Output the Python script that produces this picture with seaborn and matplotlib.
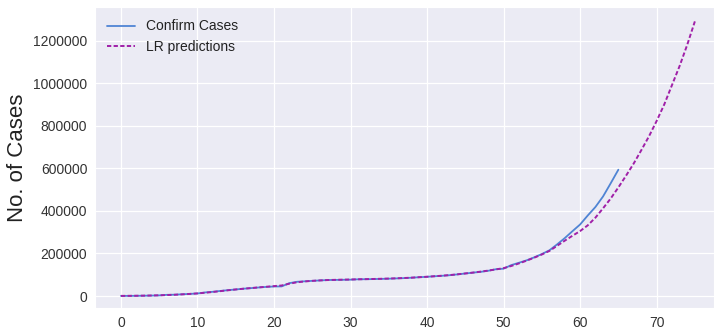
import numpy as np
import pandas as pd
import matplotlib
matplotlib.use('Agg')
import matplotlib.pyplot as plt
import seaborn as sns

# confirmed cases, day 0..65
confirm_days = list(range(0, 66))
confirm_cases = [555, 654, 941, 1434, 2118, 2927, 5578, 6166, 8234, 9927,
                 12038, 16787, 19887, 23898, 27643, 30802, 34395, 37129, 40159, 42768,
                 44810, 45171, 60374, 66887, 69032, 71226, 73260, 75138, 75641, 76199,
                 76843, 78599, 78985, 79570, 80415, 81397, 82756, 84124, 86013, 88371,
                 90309, 92844, 95124, 97886, 101800, 105836, 109835, 113582, 118582, 125865,
                 128343, 145193, 156097, 167449, 181531, 197146, 214910, 242708, 272166, 304524,
                 335955, 378287, 418045, 467653, 529591, 593291]

# LR predictions, day 0..75
pred_days = list(range(0, 76))
pred_cases = [600, 900, 1300, 1800, 2500, 3400, 4600, 6000, 7800, 9900,
              12300, 15500, 19000, 23000, 27000, 30800, 34300, 37400, 40500, 43500,
              46500, 49500, 58000, 64500, 68500, 71300, 73300, 75000, 76000, 76800,
              77600, 78600, 79300, 80100, 81000, 82000, 83200, 84600, 86300, 88400,
              90500, 93000, 95500, 98500, 102000, 106000, 110000, 114500, 119500, 125000,
              131000, 141000, 153000, 166000, 180000, 195000, 212000, 236000, 260000, 283000,
              305000, 332000, 368000, 412000, 458000, 510000, 565000, 622000, 685000, 750000,
              822000, 900000, 990000, 1080000, 1180000, 1290000]

df_conf = pd.DataFrame({'day': confirm_days, 'cases': confirm_cases})
df_pred = pd.DataFrame({'day': pred_days, 'cases': pred_cases})

sns.set_style('darkgrid', {'axes.facecolor': '#ebebf4'})
plt.rcParams['font.family'] = ['Liberation Sans', 'DejaVu Sans']

fig = plt.figure(figsize=(7.14, 3.29), dpi=100)
ax = fig.add_axes([0.133, 0.064, 0.867, 0.915])

sns.lineplot(data=df_conf, x='day', y='cases', ax=ax, color='#4f84d4',
             linewidth=1.3, label='Confirm Cases')
sns.lineplot(data=df_pred, x='day', y='cases', ax=ax, color='#a020a8',
             linewidth=1.4, linestyle=(0, (2.2, 1.2)), label='LR predictions')

ax.set_xlim(-3.4, 77.5)
ax.set_ylim(-56000, 1358000)
ax.set_xticks([0, 10, 20, 30, 40, 50, 60, 70])
ax.set_yticks([0, 200000, 400000, 600000, 800000, 1000000, 1200000])
ax.ticklabel_format(style='plain', axis='y')
ax.tick_params(labelsize=10, colors='#333333', pad=2)
ax.grid(color='white', linewidth=0.9)
ax.set_xlabel('')
ax.set_ylabel('No. of Cases', fontsize=16, color='#222222')

leg = ax.legend(loc='upper left', fontsize=10, frameon=False)
for t in leg.get_texts():
    t.set_color('#222222')

fig.savefig('out.png', dpi=100)
